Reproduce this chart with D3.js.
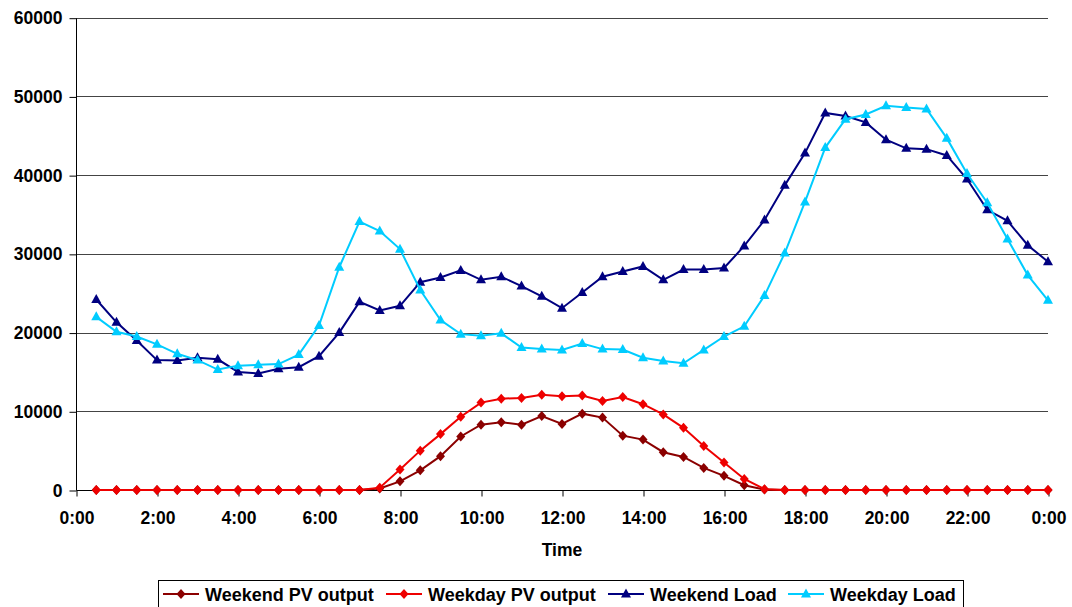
<!DOCTYPE html>
<html>
<head>
<meta charset="utf-8">
<script src="https://cdn.jsdelivr.net/npm/d3@7"></script>
<style>
  html, body { margin: 0; padding: 0; background: #fff; }
  svg { display: block; font-family: "Liberation Sans", Arial, sans-serif; font-weight: bold; }
</style>
</head>
<body>
<svg id="chart" width="1072" height="607"></svg>
<script>
// half-hour slots 0:30 ... 24:00
const slots = d3.range(1, 49);
const tickLabels = ["0:00","2:00","4:00","6:00","8:00","10:00","12:00","14:00","16:00","18:00","20:00","22:00","0:00"];
const yTicks = [0, 10000, 20000, 30000, 40000, 50000, 60000];

const weekendPV = [0,0,0,0,0,0,0,0,0,0,0,0,0,0,200,1100,2500,4300,6800,8300,8600,8300,9400,8400,9700,9200,6900,6400,4800,4200,2800,1800,600,50,0,0,0,0,0,0,0,0,0,0,0,0,0,0];
const weekdayPV = [0,0,0,0,0,0,0,0,0,0,0,0,0,0,300,2600,5000,7100,9300,11100,11600,11700,12100,11900,12000,11300,11800,10900,9600,7900,5600,3500,1400,100,0,0,0,0,0,0,0,0,0,0,0,0,0,0];
const weekendLoad = [24200,21300,19000,16500,16450,16800,16600,15000,14800,15400,15600,17000,20000,23900,22800,23400,26400,27000,27900,26700,27100,25900,24600,23100,25100,27100,27750,28400,26700,28000,28000,28200,31000,34300,38700,42800,47900,47500,46700,44500,43400,43300,42500,39500,35600,34200,31100,29000];
const weekdayLoad = [22000,20100,19500,18500,17300,16500,15300,15800,15900,16000,17200,20900,28300,34100,32900,30600,25400,21600,19800,19600,19900,18100,17900,17800,18600,17900,17850,16800,16400,16100,17800,19500,20800,24700,30100,36600,43500,47100,47700,48800,48600,48400,44700,40200,36500,31900,27300,24100];

const seriesNames = ["Weekend PV output", "Weekday PV output", "Weekend Load", "Weekday Load"];
const seriesColors = ["#8b0000", "#ee0000", "#000080", "#00ccff"];
const seriesShapes = ["diamond", "diamond", "triangle", "triangle"];
const seriesData = [weekendPV, weekdayPV, weekendLoad, weekdayLoad];

const svg = d3.select("#chart");
const L = 76, R = 1048, T = 17.7, B = 490;
const x = d3.scaleLinear().domain([0, 48]).range([L, R]);
const y = d3.scaleLinear().domain([0, 60000]).range([B, T]);

// gridlines
svg.append("g").selectAll("line").data(yTicks.filter(d => d > 0)).join("line")
  .attr("x1", L).attr("x2", R)
  .attr("y1", d => Math.round(y(d)) + 0.5).attr("y2", d => Math.round(y(d)) + 0.5)
  .attr("stroke", "#444").attr("stroke-width", 1);

// y axis
const yAxis = d3.axisLeft(y).tickValues(yTicks).tickSize(7).tickPadding(7).tickFormat(d3.format("d"));
const gy = svg.append("g").attr("transform", `translate(${L + 0.5},0.5)`).call(yAxis);
gy.select(".domain").attr("d", `M0,${Math.round(T)}V${Math.round(B)}`).attr("stroke", "#000");
gy.selectAll(".tick line").attr("stroke", "#000");
gy.selectAll("text").attr("font-size", 17.5).attr("font-weight", "bold")
  .attr("font-family", "'Liberation Sans', Arial, sans-serif").attr("fill", "#000");

// x axis
const xAxis = d3.axisBottom(x).tickValues(d3.range(0, 49, 4)).tickSize(6).tickPadding(15)
  .tickFormat((d, i) => tickLabels[i]);
const gx = svg.append("g").attr("transform", `translate(0.5,${Math.round(B) + 0.5})`).call(xAxis);
gx.select(".domain").attr("d", `M${L},0H${R}`).attr("stroke", "#000");
gx.selectAll(".tick line").attr("stroke", "#000");
gx.selectAll("text").attr("font-size", 17.5).attr("font-weight", "bold")
  .attr("font-family", "'Liberation Sans', Arial, sans-serif").attr("fill", "#000");

// axis title
svg.append("text").attr("x", (L + R) / 2).attr("y", 556).attr("text-anchor", "middle")
  .attr("font-size", 17.5).text("Time");

function markerPath(shape) {
  if (shape === "diamond") return "M0,-5L4.5,0L0,5L-4.5,0Z";
  return "M0,-5.5L5,3.5L-5,3.5Z";
}

const line = d3.line().x((d, i) => x(slots[i])).y(d => y(d));

seriesData.forEach((data, si) => {
  const g = svg.append("g");
  g.append("path").datum(data).attr("d", line)
    .attr("fill", "none").attr("stroke", seriesColors[si]).attr("stroke-width", 2);
  g.selectAll("path.m").data(data).join("path").attr("class", "m")
    .attr("transform", (d, i) => `translate(${x(slots[i])},${y(d)})`)
    .attr("d", markerPath(seriesShapes[si]))
    .attr("fill", seriesColors[si]);
});

// legend
const lg = svg.append("g");
lg.append("rect").attr("x", 158.5).attr("y", 580.5).attr("width", 805).attr("height", 30)
  .attr("fill", "#fff").attr("stroke", "#000").attr("stroke-width", 1);
const legendX = [163, 386, 608, 788];
seriesNames.forEach((name, si) => {
  const lx = legendX[si], ly = 594;
  lg.append("line").attr("x1", lx).attr("x2", lx + 36).attr("y1", ly).attr("y2", ly)
    .attr("stroke", seriesColors[si]).attr("stroke-width", 2);
  lg.append("path").attr("transform", `translate(${lx + 18},${ly})`)
    .attr("d", markerPath(seriesShapes[si])).attr("fill", seriesColors[si]);
  lg.append("text").attr("x", lx + 42).attr("y", ly + 6.5).attr("font-size", 18).text(name);
});
</script>
</body>
</html>
